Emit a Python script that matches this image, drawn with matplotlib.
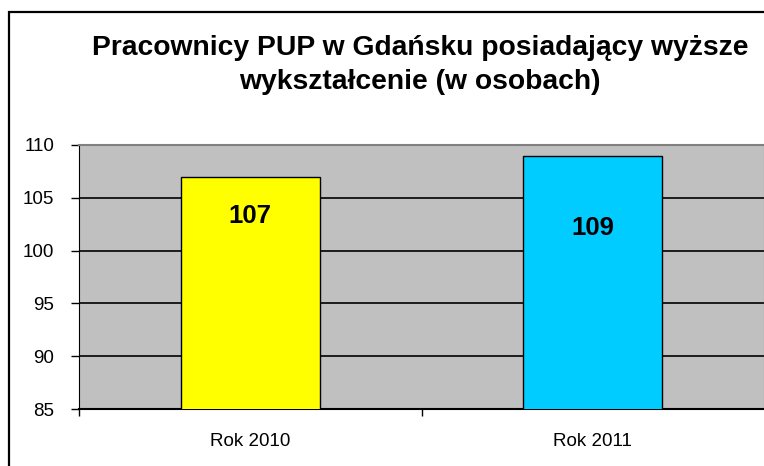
import matplotlib.pyplot as plt
from matplotlib.patches import Rectangle

categories = ['Rok 2010', 'Rok 2011']
values = [107, 109]
bar_colors = ['#FFFF00', '#00CCFF']
label_y = [103.3, 102.1]
y_ticks = [85, 90, 95, 100, 105, 110]

plt.rcParams['font.family'] = ['Liberation Sans', 'DejaVu Sans']

fig = plt.figure(figsize=(7.64, 4.66), dpi=100)
ax = fig.add_axes([79 / 764, 1 - 409 / 466, 1 - 79 / 764, (409 - 145) / 466])
ax.set_facecolor('#C0C0C0')

# outer chart border (only left/top visible, rest is cropped)
fig.patches.append(Rectangle((9 / 764, -0.1), 1.2, 1.1 - 12 / 466,
                             transform=fig.transFigure, fill=False,
                             edgecolor='black', linewidth=1.6))

x = range(len(categories))
ax.bar(x, values, width=0.405, bottom=0, color=bar_colors,
       edgecolor='black', linewidth=1.0, zorder=3)
for xi, v, ly in zip(x, values, label_y):
    ax.text(xi, ly, str(v), ha='center', va='center', fontsize=18.5,
            fontweight='bold', zorder=4)

ax.set_xlim(-0.5, 1.5)
ax.set_ylim(85, 110)
ax.set_yticks(y_ticks)
ax.tick_params(axis='y', labelsize=13.5, length=6, width=1, pad=12)
ax.set_xticks([0, 1])
ax.set_xticklabels(categories, fontsize=13.5)
ax.tick_params(axis='x', length=0, pad=17)
# category boundary ticks
ax.set_xticks([-0.5, 0.5], minor=True)
ax.tick_params(axis='x', which='minor', length=5, width=1)

for yv in y_ticks[1:-1]:
    ax.axhline(yv, color='black', linewidth=1.2, zorder=1)

ax.spines['left'].set_color('black')
ax.spines['bottom'].set_color('black')
ax.spines['bottom'].set_linewidth(1.5)
ax.spines['top'].set_color('#808080')
ax.spines['top'].set_linewidth(1.5)
ax.spines['right'].set_color('#808080')

fig.text(420 / 764, 1 - 48 / 466, 'Pracownicy PUP w Gdańsku posiadający wyższe',
         ha='center', va='center', fontsize=20.3, fontweight='bold')
fig.text(420 / 764, 1 - 82 / 466, 'wykształcenie (w osobach)',
         ha='center', va='center', fontsize=20.3, fontweight='bold')

plt.savefig('out.png', dpi=100)
